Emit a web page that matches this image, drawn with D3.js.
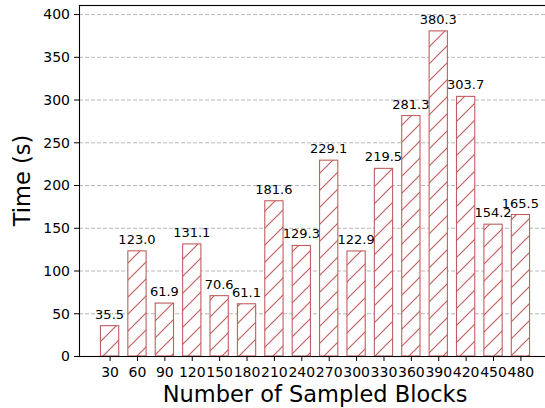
<!DOCTYPE html>
<html><head><meta charset="utf-8">
<script src="https://cdn.jsdelivr.net/npm/d3@7"></script>
<style>body{margin:0;background:#fff}svg{display:block}text{font-family:"DejaVu Sans",sans-serif}</style>
</head><body><svg id="c" width="545" height="408"></svg>
<script>
const categories = [30,60,90,120,150,180,210,240,270,300,330,360,390,420,450,480];
const times = [35.5,123.0,61.9,131.1,70.6,61.1,181.6,129.3,229.1,122.9,219.5,281.3,380.3,303.7,154.2,165.5];
const yTicks = [0,50,100,150,200,250,300,350,400];

const svg = d3.select("#c");
const L=79, R=551, T=5, B=356;
const x = d3.scaleLinear().domain([-3.5,513.5]).range([L,R]);
const y = d3.scaleLinear().domain([0,410.6]).range([B,T]);
const barW = x(20)-x(0);
const col = "#c25e5e";

const defs = svg.append("defs");
const p = defs.append("pattern").attr("id","h").attr("patternUnits","userSpaceOnUse")
  .attr("width",17).attr("height",17);
p.append("rect").attr("width",17).attr("height",17).attr("fill","#fff");
p.append("path").attr("d","M-1,18 L18,-1 M-4,4 L4,-4 M13,21 L21,13").attr("stroke",col).attr("stroke-width",1.15);

// grid
svg.append("g").selectAll("line").data(yTicks).join("line")
  .attr("x1",L).attr("x2",R).attr("y1",d=>y(d)+0.5).attr("y2",d=>y(d)+0.5)
  .attr("stroke","#b0b0b0").attr("stroke-width",0.9).attr("stroke-dasharray","4,2");

// bars
svg.append("g").selectAll("rect").data(categories).join("rect")
  .attr("x",(d)=>x(d)-barW/2).attr("width",barW)
  .attr("y",(d,i)=>y(times[i])).attr("height",(d,i)=>B-y(times[i]))
  .attr("fill","url(#h)").attr("stroke",col).attr("stroke-width",1.1);

// labels
svg.append("g").selectAll("text").data(categories).join("text")
  .attr("x",d=>x(d)).attr("y",(d,i)=>y(times[i])-7)
  .attr("text-anchor","middle").attr("font-size","13px").attr("fill","#000")
  .text((d,i)=>times[i].toFixed(1));

// axes
const xa = svg.append("g").attr("transform",`translate(0,${B})`)
  .call(d3.axisBottom(x).tickValues(categories).tickSize(5).tickPadding(3).tickFormat(d3.format("d")));
const ya = svg.append("g").attr("transform",`translate(${L},0)`)
  .call(d3.axisLeft(y).tickValues(yTicks).tickSize(5).tickPadding(4));
[xa,ya].forEach(a=>{a.selectAll("text").attr("font-size","14px").attr("fill","#000").style("font-family","DejaVu Sans");
  a.selectAll(".tick line").attr("stroke","#000").attr("stroke-width",1);
  a.select(".domain").remove();});
xa.selectAll("text").attr("dy","0.95em");
ya.selectAll("text").attr("dy","0.35em");

// spines
svg.append("rect").attr("x",L+0.5).attr("y",T+0.5).attr("width",R-L).attr("height",B-T)
  .attr("fill","none").attr("stroke","#000").attr("stroke-width",1.1);

svg.append("text").attr("x",(L+R)/2).attr("y",402).attr("text-anchor","middle")
  .attr("font-size","22.5px").text("Number of Sampled Blocks");
svg.append("text").attr("transform",`translate(30,${(T+B)/2}) rotate(-90)`).attr("text-anchor","middle")
  .attr("font-size","22.5px").text("Time (s)");
</script></body></html>
